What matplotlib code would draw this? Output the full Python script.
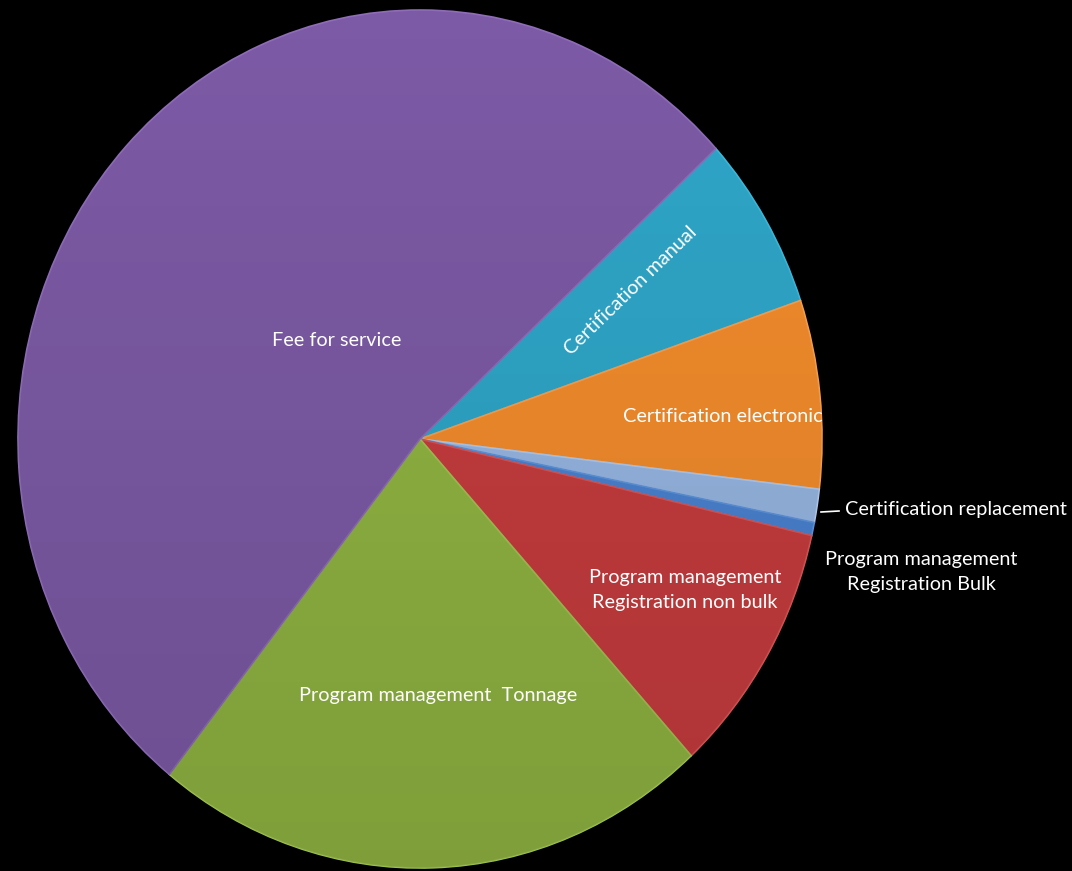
import numpy as np
import matplotlib
matplotlib.use("Agg")
import matplotlib.pyplot as plt
from matplotlib.patches import Ellipse

categories = [
    "Certification manual",
    "Certification electronic",
    "Certification replacement",
    "Program management\nRegistration Bulk",
    "Program management\nRegistration non bulk",
    "Program management  Tonnage",
    "Fee for service",
]
shares = [6.6, 7.1, 1.25, 0.5, 9.6, 22.5, 52.45]
colors = ["#2FA6C8", "#F38C2C", "#96B6E2", "#4A82D0", "#C63C3E", "#90B442", "#7C5AA5"]
edge_colors = ["#3DB8DA", "#F8A050", "#B0CAEE", "#5E94DC", "#D85456", "#A0C452", "#8E6CB8"]

W, H = 1072, 871
cx, cy = 420, 439
rx, ry = 402, 429

fig = plt.figure(figsize=(W / 100, H / 100), dpi=100, facecolor="black")
ax = fig.add_axes([0, 0, 1, 1])
ax.set_facecolor("black")

wedges, _ = ax.pie(shares, colors=colors, startangle=42.6, counterclock=False,
                   radius=1.0, center=(0, 0), frame=False,
                   wedgeprops=dict(linewidth=1.2))
for w, ec in zip(wedges, edge_colors):
    w.set_edgecolor(ec)

# subtle vertical shading over the pie
grad = np.linspace(0, 1, 256).reshape(-1, 1)
shade = np.zeros((256, 1, 4))
shade[..., 3] = 0.12 * grad
img = ax.imshow(shade, extent=(-1, 1, -1, 1), origin="upper", aspect="auto",
                zorder=3, interpolation="bilinear")
clip = Ellipse((0, 0), 2, 2, transform=ax.transData, facecolor="none", edgecolor="none")
ax.add_patch(clip)
img.set_clip_path(clip)

ax.set_xlim(-cx / rx, (W - cx) / rx)
ax.set_ylim(-(H - cy) / ry, cy / ry)
ax.set_aspect("auto")
ax.axis("off")


def px(x, y):
    return ((x - cx) / rx, (cy - y) / ry)


font = dict(color="white", fontsize=14.3, family=["Lato", "DejaVu Sans"], zorder=5)

ax.text(*px(337, 341), categories[6], ha="center", va="center", **font)
ax.text(*px(631, 291), categories[0], ha="center", va="center", rotation=44, **font)
ax.text(*px(723, 416), categories[1], ha="center", va="center", **font)
ax.text(*px(845, 509), categories[2], ha="left", va="center", **font)
ax.text(*px(921, 572), categories[3], ha="center", va="center", linespacing=1.6, **font)
ax.text(*px(685, 590), categories[4], ha="center", va="center", linespacing=1.6, **font)
ax.text(*px(438, 696), categories[5], ha="center", va="center", **font)

x0, y0 = px(821, 512)
x1, y1 = px(839, 511)
ax.plot([x0, x1], [y0, y1], color="white", linewidth=1.2, zorder=5)

fig.savefig("out.png", dpi=100, facecolor="black")
